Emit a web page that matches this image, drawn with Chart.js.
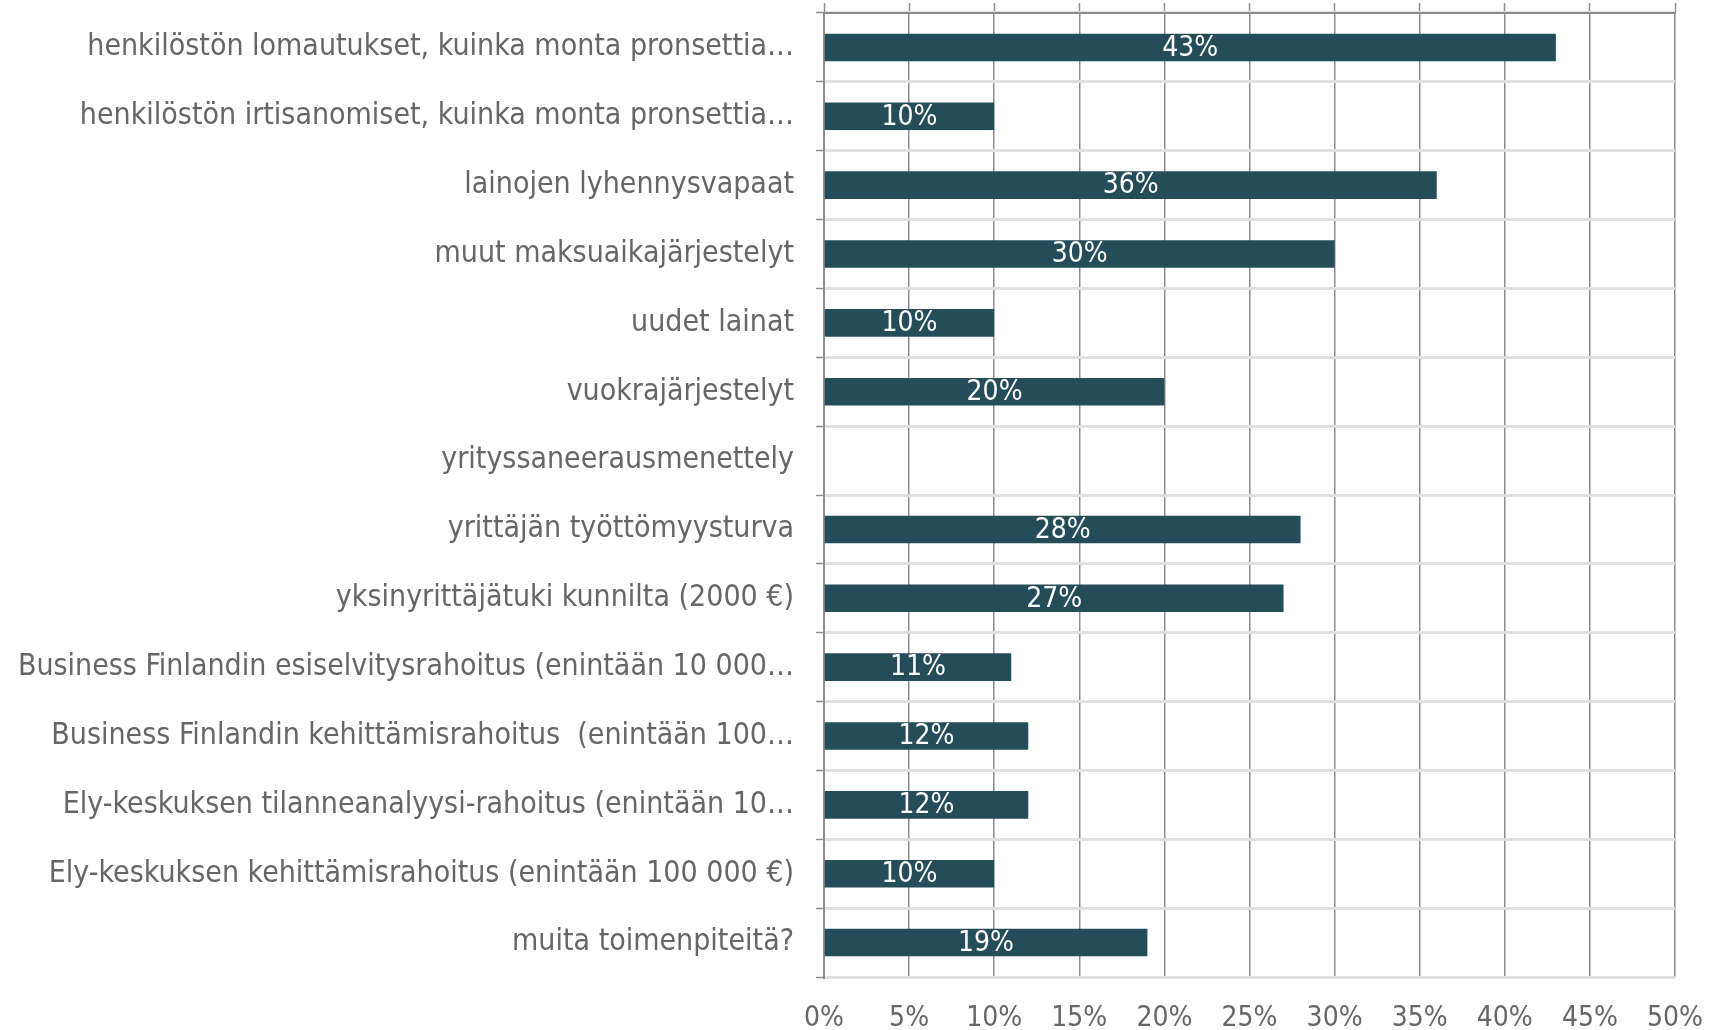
<!DOCTYPE html>
<html>
<head>
<meta charset="utf-8">
<script src="https://cdn.jsdelivr.net/npm/chart.js@4"></script>
<style>
  html, body { margin: 0; padding: 0; background: #fff; }
  #wrap { width: 1709px; height: 1030px; }
</style>
</head>
<body>
<div id="wrap"><canvas id="myChart"></canvas></div>
<script>
const labels = [
  'henkilöstön lomautukset, kuinka monta pronsettia…',
  'henkilöstön irtisanomiset, kuinka monta pronsettia…',
  'lainojen lyhennysvapaat',
  'muut maksuaikajärjestelyt',
  'uudet lainat',
  'vuokrajärjestelyt',
  'yrityssaneerausmenettely',
  'yrittäjän työttömyysturva',
  'yksinyrittäjätuki kunnilta (2000 €)',
  'Business Finlandin esiselvitysrahoitus (enintään 10 000…',
  'Business Finlandin kehittämisrahoitus  (enintään 100…',
  'Ely-keskuksen tilanneanalyysi-rahoitus (enintään 10…',
  'Ely-keskuksen kehittämisrahoitus (enintään 100 000 €)',
  'muita toimenpiteitä?'
];
const values = [43, 10, 36, 30, 10, 20, 0, 28, 27, 11, 12, 12, 10, 19];

const fontName = "'DejaVu Sans Condensed', 'Liberation Sans Narrow', sans-serif";

// white % labels in the middle of each bar
const barLabels = {
  id: 'barLabels',
  afterDatasetsDraw(chart) {
    const ctx = chart.ctx;
    const meta = chart.getDatasetMeta(0);
    ctx.save();
    ctx.fillStyle = '#ffffff';
    ctx.font = '28px ' + fontName;
    ctx.textAlign = 'center';
    ctx.textBaseline = 'middle';
    meta.data.forEach(function(bar, i) {
      if (!values[i]) return;
      const x = (bar.x + bar.base) / 2;
      ctx.fillText(values[i] + '%', x, bar.y + 1);
    });
    ctx.restore();
  }
};

function draw(chart) {
  myChart = new Chart(chart, {
    type: 'bar',
    data: {
      labels: labels,
      datasets: [{
        data: values,
        backgroundColor: '#244c59',
        borderWidth: 0,
        categoryPercentage: 1,
        barPercentage: 0.4
      }]
    },
    options: {
      indexAxis: 'y',
      responsive: true,
      maintainAspectRatio: false,
      animation: false,
      layout: { padding: { left: 10, right: 34, top: 3, bottom: 0 } },
      plugins: { legend: { display: false }, tooltip: { enabled: false } },
      scales: {
        x: {
          min: 0,
          max: 50,
          ticks: {
            stepSize: 5,
            color: '#666',
            padding: 25,
            font: { family: fontName, size: 28 },
            callback: function(v) { return v + '%'; }
          },
          grid: { color: '#8c8c8c', lineWidth: 1.5, drawTicks: false },
          border: { display: false },
          afterFit: function(s) { s.height = 53; s.paddingLeft = 0; s.paddingRight = 0; }
        },
        // top axis: only the short tick marks above the plot and the dark top line
        x2: {
          position: 'top',
          min: 0,
          max: 50,
          ticks: { display: false, stepSize: 5 },
          grid: {
            drawOnChartArea: false,
            tickLength: 10,
            tickColor: '#8c8c8c',
            tickWidth: 1.5
          },
          border: { color: '#8c8c8c', width: 2 },
          afterFit: function(s) { s.paddingLeft = 0; s.paddingRight = 0; }
        },
        y: {
          ticks: {
            color: '#666',
            padding: 22,
            font: { family: fontName, size: 30 }
          },
          grid: {
            offset: true,
            color: '#e0e0e0',
            lineWidth: 3,
            tickColor: '#8c8c8c',
            tickWidth: 1.5,
            tickLength: 8
          },
          border: { color: '#8c8c8c', width: 2 },
          afterFit: function(s) { s.width = 814; s.paddingTop = 0; s.paddingBottom = 0; }
        }
      }
    },
    plugins: [barLabels]
  });
}

let myChart;
window.addEventListener('load', function() {
  draw(document.getElementById('myChart').getContext('2d'));
});
</script>
</body>
</html>
